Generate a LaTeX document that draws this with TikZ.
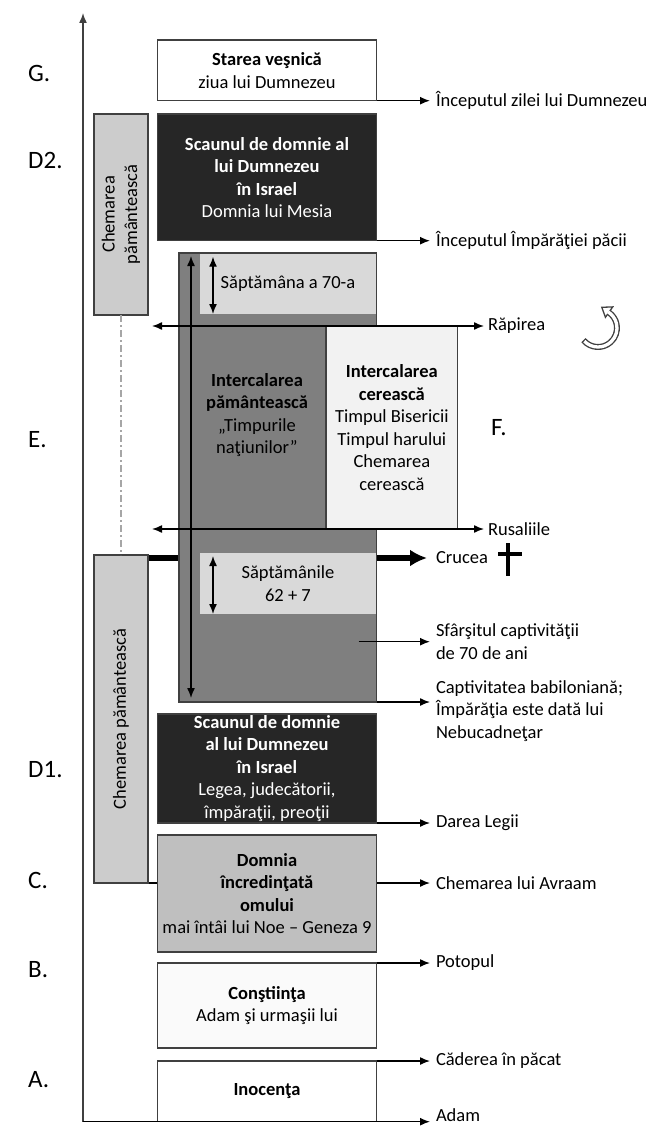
\documentclass[tikz,border=0pt]{standalone}
\usepackage{fontspec}
\setmainfont{Carlito}
\usetikzlibrary{arrows.meta, backgrounds}
\definecolor{contur}{HTML}{404040}
\definecolor{negru}{HTML}{262626}
\definecolor{gri}{HTML}{7F7F7F}
\definecolor{griusor}{HTML}{D9D9D9}
\definecolor{gricall}{HTML}{CCCCCC}
\definecolor{domnie}{HTML}{BFBFBF}
\definecolor{albgri}{HTML}{F2F2F2}
\definecolor{aproapealb}{HTML}{FAFAFA}
\newcommand{\textsize}{\fontsize{18.5}{22.5}\selectfont}
\tikzstyle{era} = [rectangle, draw=contur, line width=1.5pt, inner sep=0pt, outer sep=0pt, anchor=north west, align=center, font=\textsize]
\tikzstyle{darkera} = [era, fill=negru, text=white]
\tikzstyle{chemare} = [era, fill=gricall]
\tikzstyle{tinted} = [rectangle, fill=griusor, inner sep=0pt, outer sep=0pt, anchor=north west, align=center, font=\textsize]
\tikzstyle{evlabel} = [anchor=west, inner xsep=6pt, inner ysep=0pt, outer sep=0pt, align=left, font=\textsize]
\tikzstyle{perioada} = [anchor=west, inner sep=0pt, font=\fontsize{25}{30}\selectfont]
\tikzstyle{arrow} = [line width=1.4pt, -{Latex[length=10pt,width=8pt]}]
\tikzstyle{dblarrow} = [line width=1.4pt, {Latex[length=10pt,width=8pt]}-{Latex[length=10pt,width=8pt]}]
\tikzstyle{crucearrow} = [line width=6pt, -{Latex[length=17pt,width=17pt]}]
\tikzstyle{punctat} = [draw=black!35, line width=1.2pt, dash pattern=on 7pt off 3pt on 2pt off 3pt]

\begin{document}
\begin{tikzpicture}[x=1pt, y=-1pt]
\useasboundingbox (0,0) rectangle (658,1126);

% axa timpului
\coordinate (origine) at (83,1121.7);
\coordinate (varf) at (83,13);
\draw[arrow, draw=contur, line width=1.5pt] (origine) -- (varf);

% literele perioadelor
\node (G) [perioada] at (28,73) {G.};
\node (D2) [perioada] at (28,160) {D2.};
\node (E) [perioada] at (28,440) {E.};
\node (D1) [perioada] at (28,770) {D1.};
\node (C) [perioada] at (28,880) {C.};
\node (B) [perioada] at (28,970) {B.};
\node (A) [perioada] at (28,1080) {A.};

% chemarea pamanteasca
\node (chemsus) [chemare, minimum width=54pt, minimum height=201pt] at (94,114) {};
\node (chemsustext) [rotate=90, align=center, font=\textsize] at (chemsus.center) {Chemarea\\pământească};
\node (chemjos) [chemare, minimum width=54pt, minimum height=328pt] at (94,555) {};
\node (chemjostext) [rotate=90, font=\textsize] at (chemjos.center) {Chemarea pământească};
\draw[punctat] (chemsus.south) -- (chemjos.north);

% epocile
\node (starea) [era, minimum width=219pt, minimum height=60.7pt] at (157.5,40) {\textbf{Starea veşnică}\\ziua lui Dumnezeu};
\node (scaun2) [darkera, minimum width=219pt, minimum height=126.7pt] at (157.5,114) {\textbf{Scaunul de domnie al}\\\textbf{lui Dumnezeu}\\\textbf{în Israel}\\Domnia lui Mesia};
\node (natiuni) [era, fill=gri, minimum width=197.7pt, minimum height=449pt] at (179,253) {};
\node (natiunitext) [align=center, font=\textsize] at (257,415) {\textbf{Intercalarea}\\\textbf{pământească}\\„Timpurile\\naţiunilor”};
\node (sapt70) [tinted, minimum width=175.9pt, minimum height=60.3pt] at (200,253.7) {Săptămâna a 70-a};
\node (sapt62) [tinted, minimum width=175.9pt, minimum height=61pt] at (200,553) {Săptămânile\\62 + 7};
\node (cereasca) [era, fill=albgri, minimum width=131.7pt, minimum height=203pt] at (326,326) {\textbf{Intercalarea}\\\textbf{cerească}\\Timpul Bisericii\\Timpul harului\\Chemarea\\cerească};
\node (F) [perioada] at (491,428) {F.};
\node (scaun1) [darkera, minimum width=219pt, minimum height=109pt] at (157.5,714) {\textbf{Scaunul de domnie}\\\textbf{al lui Dumnezeu}\\\textbf{în Israel}\\Legea, judecătorii,\\împăraţii, preoţii};
\node (domnia) [era, fill=domnie, minimum width=219pt, minimum height=117pt] at (157.5,835) {\textbf{Domnia}\\\textbf{încredinţată}\\\textbf{omului}\\mai întâi lui Noe – Geneza 9};
\node (constiinta) [era, fill=aproapealb, minimum width=219pt, minimum height=85pt] at (157.5,963) {\textbf{Conştiinţa}\\Adam şi urmaşii lui};
\node (inocenta) [era, fill=white, minimum width=219pt, minimum height=60.7pt] at (157.5,1061) {\textbf{Inocenţa}};

% evenimentele
\node (zilei) [evlabel] at (430,100.7) {Începutul zilei lui Dumnezeu};
\node (pacii) [evlabel] at (430,240.7) {Începutul Împărăţiei păcii};
\node (rapirea) [evlabel, inner xsep=4pt] at (484,326) {Răpirea};
\node (rusaliile) [evlabel, inner xsep=4pt] at (484,529) {Rusaliile};
\node (crucea) [evlabel, inner xsep=9pt] at (427,558) {Crucea};
\node (sfarsit) [evlabel] at (430,641.7) {Sfârşitul captivităţii\\de 70 de ani};
\node (captiv) [evlabel] at (430,711) {Captivitatea babiloniană;\\Împărăţia este dată lui\\Nebucadneţar};
\node (legii) [evlabel] at (430,823) {Darea Legii};
\node (avraam) [evlabel] at (430,883) {Chemarea lui Avraam};
\node (potopul) [evlabel] at (430,963) {Potopul};
\node (caderea) [evlabel] at (430,1061) {Căderea în păcat};
\node (adam) [evlabel] at (430,1115) {Adam};

\begin{scope}[on background layer]
\draw[crucearrow] (crucea.west -| chemjos.east) -- (crucea.west);
\draw[arrow] (chemjos.south east) -- (chemjos.south east -| avraam.west);
\end{scope}

\draw[arrow] (starea.south east) -- (starea.south east -| zilei.west);
\draw[arrow] (scaun2.south east) -- (scaun2.south east -| pacii.west);
\draw[arrow] (scaun1.south east) -- (scaun1.south east -| legii.west);
\draw[arrow] (constiinta.north east) -- (constiinta.north east -| potopul.west);
\draw[arrow] (inocenta.north east) -- (inocenta.north east -| caderea.west);
\draw[arrow] (origine) -- (origine -| adam.west);
\draw[arrow] (natiuni.south east) -- (natiuni.south east -| captiv.west);
\coordinate (sfstart) at (358.5,641.7);
\draw[arrow] (sfstart) -- (sfstart -| sfarsit.west);

\coordinate (rapstanga) at (152,326);
\coordinate (russtanga) at (152,529);
\draw[dblarrow] (rapstanga) -- (rapstanga -| rapirea.west);
\draw[dblarrow] (russtanga) -- (russtanga -| rusaliile.west);

\coordinate (natsus) at (191,256);
\coordinate (natjos) at (191,698);
\draw[dblarrow] (natsus) -- (natjos);
\draw[dblarrow] ([xshift=13pt,yshift=-3pt]sapt70.north west) -- ([xshift=13pt]sapt70.south west);
\draw[dblarrow] ([xshift=13pt,yshift=-3pt]sapt62.north west) -- ([xshift=13pt]sapt62.south west);

% crucea
\draw[line width=4pt] (508,543) -- (508,576);
\draw[line width=4pt] (498,554) -- (522,554);

% sageata curba
\coordinate (rotire) at (598,328);
\draw[line width=6pt, contur] ([shift={(140:19)}]rotire) arc[start angle=140, end angle=-55, radius=19];
\filldraw[fill=white, draw=contur, line width=1.3pt] (612.7,306.9) -- (601.8,307.3) -- (605.4,317.3) -- cycle;
\draw[line width=3.3pt, white] ([shift={(136:19)}]rotire) arc[start angle=136, end angle=-58, radius=19];
\end{tikzpicture}
\end{document}
